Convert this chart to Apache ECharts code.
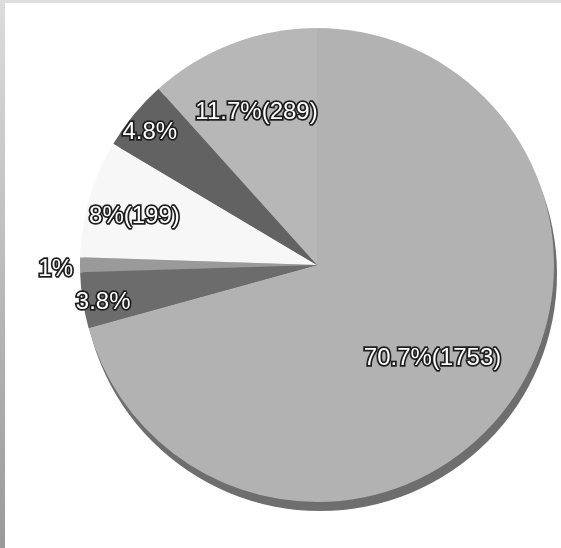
<!DOCTYPE html>
<html>
<head>
<meta charset="utf-8">
<script src="https://cdn.jsdelivr.net/npm/echarts@6/dist/echarts.min.js"></script>
<style>
  html, body { margin: 0; padding: 0; background: #fff; }
  #chart { width: 561px; height: 548px; }
</style>
</head>
<body>
<div id="chart"></div>
<script>
// Slices in clockwise order from 12 o'clock
const groups = ['Group 1', 'Group 2', 'Group 3', 'Group 4', 'Group 5', 'Group 6'];
const counts = [1753, 94, 25, 199, 119, 289];
// Whether a slice label also shows its count after the percentage
const showCount = [true, false, false, true, false, true];

const total = counts.reduce((a, b) => a + b, 0);

// Pie geometry and look
const CX = 317, CY = 265, R = 237;
const sliceColors = ['#b2b2b2', '#6c6c6c', '#9a9a9a', '#f7f7f7', '#626262', '#b7b7b7'];
// Distance of each label from the centre, as a share of the radius
const labelReach = [0.60, 0.90, 1.09, 0.79, 0.90, 0.70];
const labelDrop = 5;

function pctText(v) {
  let s = (v / total * 100).toFixed(1);
  if (s.endsWith('.0')) s = s.slice(0, -2);
  return s + '%';
}

// Mid angle (radians, clockwise from top) of each slice
const midAngles = [];
let acc = 0;
counts.forEach(v => {
  midAngles.push((acc + v / 2) / total * 2 * Math.PI);
  acc += v;
});

const chart = echarts.init(document.getElementById('chart'), null, { renderer: 'canvas' });

chart.setOption({
  animation: false,
  backgroundColor: '#ffffff',
  graphic: [
    {
      type: 'rect', left: 0, top: 0, z: 10,
      shape: { width: 561, height: 3 },
      style: { fill: '#dedede' }
    },
    {
      type: 'rect', left: 0, top: 0, z: 10,
      shape: { width: 5, height: 548 },
      style: {
        fill: new echarts.graphic.LinearGradient(0, 0, 0, 1, [
          { offset: 0, color: '#dcdcdc' },
          { offset: 1, color: '#9a9a9a' }
        ])
      }
    }
  ],
  series: [
    {
      // darker rim under the pie on the right and bottom
      type: 'pie',
      silent: true,
      center: [CX + 3, CY + 9],
      radius: R,
      label: { show: false },
      labelLine: { show: false },
      data: [{ value: total, itemStyle: { color: '#6e6e6e' } }]
    },
    {
      type: 'pie',
      silent: true,
      center: [CX, CY],
      radius: R,
      startAngle: 90,
      clockwise: true,
      itemStyle: { borderWidth: 0 },
      labelLine: { show: false },
      label: {
        show: true,
        position: 'inside',
        color: '#ffffff',
        fontFamily: 'Liberation Sans, Arial, sans-serif',
        fontSize: 24,
        textBorderColor: '#1e1e1e',
        textBorderWidth: 3.5,
        formatter: p => pctText(p.value) + (showCount[p.dataIndex] ? '(' + p.value + ')' : '')
      },
      labelLayout: p => {
        const a = midAngles[p.dataIndex];
        const d = (labelReach[p.dataIndex] - 0.5) * R;
        return { dx: Math.sin(a) * d, dy: -Math.cos(a) * d + labelDrop };
      },
      data: counts.map((v, i) => ({
        value: v,
        name: groups[i],
        itemStyle: { color: sliceColors[i] }
      }))
    }
  ]
});
</script>
</body>
</html>
